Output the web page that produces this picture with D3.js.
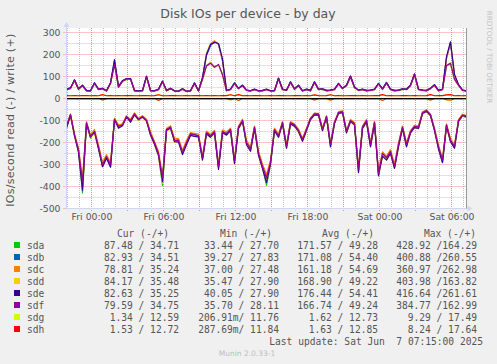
<!DOCTYPE html>
<html>
<head>
<meta charset="utf-8">
<script src="https://cdn.jsdelivr.net/npm/d3@7"></script>
<style>
  html, body { margin: 0; padding: 0; background: #F0F0F0; }
  svg { display: block; }
  svg text { white-space: pre; }
</style>
</head>
<body>
<div id="chart"></div>
<script>
// Munin "Disk IOs per device - by day", one sample every 20 minutes
const startTime = new Date(2025, 5, 5, 21, 55);
const endTime = new Date(2025, 5, 7, 7, 15);
const stepMinutes = 20;

const disks = ['sda', 'sdb', 'sdc', 'sdd', 'sde', 'sdf', 'sdg', 'sdh'];
const diskColors = ['#00CC00', '#0066B3', '#FF8000', '#FFCC00', '#330099', '#990099', '#CCFF00', '#FF0000'];

// write (+) values
const sdaWrite = [42,47,84,40,60,34,35,70,42,44,35, 70,158,50,80,86,90,34,35,34,100, 36,35,42,78,34,44,35,33,44,33, 35,70,35,86,150,164,145,152,110,35, 42,70,44,60,38,35,42,33,34,42, 35,34,92,42,38,75,40,60,35,42, 34,75,42,40,34,38,42,68,44,60, 100,48,38,42,34,38,42,68,40,72, 42,34,38,40,42,60,110,42,38,34, 47,62,34,42,148,158,86,62,38,35];
const sdbWrite = [42,48,84,44,60,37,35,70,42,46,35, 70,170,54,80,90,90,37,35,37,100, 37,35,42,78,37,46,35,33,44,33, 35,70,35,95,195,240,260,248,170,37, 42,70,46,60,38,35,42,35,37,42, 35,37,92,42,38,76,44,60,35,42, 37,76,42,44,37,38,42,68,46,60, 102,52,38,42,37,38,42,68,44,72, 42,37,38,44,42,60,112,42,38,37, 46,62,37,42,185,250,100,62,38,35];
const sdcWrite = [41,47,83,43,59,36,34,69,41,45,34, 69,168,53,79,89,89,36,34,36,99, 36,34,41,77,36,45,34,32,43,32, 34,69,34,92,205,250,263,245,175,36, 41,69,45,59,37,34,41,34,36,41, 34,36,91,41,37,74,43,59,34,41, 36,74,41,43,36,37,41,67,45,59, 100,51,37,41,36,37,41,67,43,71, 41,36,37,43,41,59,110,41,37,36, 45,61,36,41,180,255,105,61,37,35];
const sddWrite = [41,46,80,43,57,36,33,67,41,46,33, 67,152,53,77,87,87,36,33,36,96, 34,33,41,75,36,46,33,31,41,31, 33,66,33,87,146,163,140,154,106,37, 41,67,46,57,36,33,41,33,36,41, 33,36,88,41,36,72,43,57,33,41, 36,72,41,43,36,36,41,65,46,57, 96,51,36,41,36,36,41,65,43,69, 41,36,36,43,41,57,106,41,36,36, 46,58,36,41,152,162,86,58,36,35];
const sdeWrite = [43,48,85,44,61,37,35,71,43,46,35, 71,177,55,81,91,91,37,35,37,102, 37,35,43,79,37,46,35,33,44,33, 35,71,35,96,200,245,255,250,180,37, 43,71,46,61,38,35,43,35,37,43, 35,37,93,43,38,76,44,61,35,43, 37,76,43,44,37,38,43,69,46,61, 102,52,38,43,37,38,43,69,44,73, 43,37,38,44,43,61,112,43,38,37, 47,63,37,43,190,258,110,63,38,35];
const sdfWrite = [40,45,82,42,58,35,34,68,40,45,34, 68,155,52,78,88,88,35,34,35,98, 35,34,40,76,35,45,34,32,42,32, 34,68,34,88,148,160,142,155,108,36, 40,68,45,58,37,34,40,34,35,40, 34,35,90,40,37,73,42,58,34,40, 35,73,40,42,35,37,40,66,45,58, 98,50,37,40,35,37,40,66,42,70, 40,35,37,42,40,58,108,40,37,35, 45,60,35,40,150,160,88,60,37,35];
const sdgWrite = [12.6,12.5,12.7,12.4,12.6,12.8,12.5,12.6,12.3,17.2,12.5, 12.6,12.4,12.7,12.5,12.6,12.8,12.4,12.5,12.6,12.7, 12.5,12.6,16.8,12.4,12.5,12.7,12.6,12.5,12.4,12.6, 12.5,12.8,12.6,12.5,12.7,12.4,12.6,12.5,12.6,12.7, 16.9,12.5,17.3,12.4,12.6,12.5,12.7,12.6,12.5,12.4, 12.6,12.5,12.7,12.6,12.5,12.4,12.6,12.7,12.5,12.6, 12.4,16.5,12.6,12.5,12.7,17.0,12.5,12.6,12.4,12.5, 12.6,12.7,12.5,12.6,12.4,12.5,12.6,12.7,17.5,12.5, 12.6,12.4,12.5,12.6,12.7,12.5,12.6,12.4,12.5,12.6, 17.1,12.5,12.6,12.7,16.4,17.2,12.5,12.6,12.4,12.6];
const sdhWrite = [12.7,12.6,12.8,12.5,12.7,12.9,12.6,12.7,12.4,17.4,12.6, 12.7,12.5,12.8,12.6,12.7,12.9,12.5,12.6,12.7,12.8, 12.6,12.7,17.0,12.5,12.6,12.8,12.7,12.6,12.5,12.7, 12.6,12.9,12.7,12.6,12.8,12.5,12.7,12.6,12.7,12.8, 17.1,12.6,17.6,12.5,12.7,12.6,12.8,12.7,12.6,12.5, 12.7,12.6,12.8,12.7,12.6,12.5,12.7,12.8,12.6,12.7, 12.5,16.7,12.7,12.6,12.8,17.2,12.6,12.7,12.5,12.6, 12.7,12.8,12.6,12.7,12.5,12.6,12.7,12.8,17.6,12.6, 12.7,12.5,12.6,12.7,12.8,12.6,12.7,12.5,12.6,12.7, 17.3,12.6,12.7,12.8,16.6,17.4,12.6,12.7,12.5,12.7];

// read (-) values, already negated the munin way
const sdaRead = [-130,-78,-170,-240,-429,-115,-180,-145,-225,-310,-270, -305,-90,-130,-115,-85,-105,-72,-100,-80,-95, -165,-205,-260,-395,-145,-125,-195,-185,-250,-205, -165,-160,-175,-265,-160,-175,-155,-315,-145,-165, -145,-290,-135,-95,-205,-235,-135,-255,-315,-395, -300,-145,-175,-105,-225,-115,-125,-150,-190,-145, -95,-72,-75,-145,-85,-215,-105,-68,-62,-155, -105,-120,-330,-135,-105,-215,-112,-345,-260,-275, -245,-315,-215,-135,-215,-155,-130,-135,-70,-58, -78,-145,-225,-290,-125,-195,-225,-105,-78,-87];
const sdbRead = [-125,-75,-168,-236,-400,-112,-170,-155,-218,-305,-260, -310,-98,-125,-122,-80,-102,-68,-92,-85,-98, -158,-205,-255,-370,-138,-135,-188,-195,-240,-198, -162,-168,-168,-275,-152,-168,-152,-305,-155,-158, -138,-280,-128,-102,-198,-228,-128,-245,-305,-365, -285,-138,-168,-112,-215,-108,-118,-142,-188,-138, -92,-68,-72,-138,-80,-205,-112,-62,-58,-148, -98,-112,-325,-128,-98,-205,-106,-335,-248,-268, -238,-305,-205,-128,-205,-148,-125,-128,-62,-52, -72,-138,-215,-285,-118,-188,-215,-98,-72,-83];
const sdcRead = [-120,-70,-160,-225,-360,-105,-165,-140,-210,-290,-255, -290,-90,-120,-115,-78,-95,-65,-90,-78,-95, -150,-195,-240,-350,-135,-125,-180,-182,-235,-190, -155,-158,-162,-260,-148,-162,-145,-300,-142,-152, -135,-275,-125,-95,-190,-222,-125,-240,-298,-345, -280,-135,-162,-105,-208,-105,-115,-140,-180,-135, -88,-66,-68,-135,-78,-200,-105,-60,-56,-145, -95,-110,-310,-125,-95,-200,-104,-330,-242,-262, -232,-298,-202,-125,-202,-145,-122,-125,-62,-52, -72,-135,-212,-272,-115,-182,-210,-96,-72,-79];
const sddRead = [-132,-80,-172,-238,-404,-118,-178,-160,-228,-298,-268, -298,-100,-132,-125,-88,-105,-75,-98,-86,-104, -168,-210,-262,-385,-148,-138,-198,-195,-252,-208, -168,-170,-178,-272,-162,-178,-158,-318,-158,-168, -148,-292,-138,-105,-208,-238,-138,-258,-312,-380, -295,-148,-178,-115,-222,-118,-128,-152,-195,-148, -95,-75,-78,-148,-88,-218,-115,-70,-64,-158, -105,-122,-340,-138,-108,-218,-115,-350,-258,-278, -248,-312,-218,-138,-218,-158,-132,-138,-70,-60, -80,-148,-228,-288,-128,-198,-222,-106,-80,-84];
const sdeRead = [-135,-76,-168,-245,-417,-114,-176,-152,-230,-310,-272, -312,-96,-135,-124,-84,-108,-74,-96,-84,-102, -166,-208,-258,-378,-146,-134,-196,-198,-255,-210, -168,-172,-175,-280,-160,-176,-156,-322,-156,-166, -146,-296,-136,-104,-210,-240,-136,-258,-318,-382, -298,-146,-176,-114,-226,-116,-126,-150,-194,-146, -96,-74,-76,-146,-86,-220,-114,-68,-64,-156, -104,-120,-336,-136,-106,-220,-114,-352,-262,-280, -250,-318,-220,-136,-220,-156,-132,-136,-68,-58, -78,-146,-230,-292,-126,-196,-226,-104,-78,-83];
const sdfRead = [-127,-73,-165,-232,-380,-110,-173,-150,-220,-300,-264, -300,-95,-127,-120,-82,-100,-70,-95,-82,-100, -160,-200,-250,-360,-141,-130,-190,-190,-245,-200, -160,-164,-170,-270,-155,-170,-150,-310,-150,-160, -140,-285,-130,-100,-200,-230,-130,-250,-309,-360, -290,-141,-170,-109,-218,-110,-120,-145,-186,-140, -90,-70,-70,-141,-82,-210,-109,-64,-60,-150, -100,-115,-320,-130,-100,-210,-109,-340,-250,-270, -240,-309,-210,-130,-210,-150,-127,-130,-65,-55, -75,-141,-220,-280,-120,-190,-218,-100,-75,-80];
const sdgRead = [-1.2,-1.5,-0.9,-1.8,-1.3,-1.1,-1.6,-1.4,-1.2,-5.5,-1.3, -1.0,-1.7,-1.5,-1.2,-1.4,-1.1,-1.6,-1.3,-1.2,-1.5, -1.4,-1.1,-7.8,-1.3,-1.6,-1.2,-1.5,-1.4,-1.1,-1.3, -1.6,-1.2,-1.4,-1.5,-1.1,-1.3,-1.6,-1.2,-1.4,-1.5, -6.2,-1.3,-9.3,-1.2,-1.4,-1.6,-1.1,-1.3,-1.5,-1.2, -1.4,-1.6,-1.1,-1.3,-1.5,-1.2,-1.4,-1.6,-1.3,-1.1, -1.5,-5.8,-1.4,-1.2,-1.6,-7.1,-1.3,-1.5,-1.2,-1.4, -1.1,-1.6,-1.3,-1.5,-1.2,-1.4,-1.6,-1.1,-8.5,-1.3, -1.5,-1.2,-1.4,-1.6,-1.1,-1.3,-1.5,-1.2,-1.4,-1.6, -6.6,-1.3,-1.5,-1.2,-5.9,-7.4,-1.3,-1.5,-1.4,-1.3];
const sdhRead = [-1.4,-1.6,-1.0,-1.9,-1.5,-1.2,-1.7,-1.5,-1.3,-6.0,-1.4, -1.1,-1.8,-1.6,-1.3,-1.5,-1.2,-1.7,-1.4,-1.3,-1.6, -1.5,-1.2,-7.2,-1.4,-1.7,-1.3,-1.6,-1.5,-1.2,-1.4, -1.7,-1.3,-1.5,-1.6,-1.2,-1.4,-1.7,-1.3,-1.5,-1.6, -5.7,-1.4,-8.2,-1.3,-1.5,-1.7,-1.2,-1.4,-1.6,-1.3, -1.5,-1.7,-1.2,-1.4,-1.6,-1.3,-1.5,-1.7,-1.4,-1.2, -1.6,-6.3,-1.5,-1.3,-1.7,-6.5,-1.4,-1.6,-1.3,-1.5, -1.2,-1.7,-1.4,-1.6,-1.3,-1.5,-1.7,-1.2,-7.9,-1.4, -1.6,-1.3,-1.5,-1.7,-1.2,-1.4,-1.6,-1.3,-1.5,-1.7, -6.1,-1.4,-1.6,-1.3,-5.4,-6.8,-1.4,-1.6,-1.5,-1.5];

const writeSeries = [sdaWrite, sdbWrite, sdcWrite, sddWrite, sdeWrite, sdfWrite, sdgWrite, sdhWrite];
const readSeries = [sdaRead, sdbRead, sdcRead, sddRead, sdeRead, sdfRead, sdgRead, sdhRead];

// legend table (read / write)
const curText = ['87.48 / 34.71', '82.93 / 34.51', '78.81 / 35.24', '84.17 / 35.48', '82.63 / 35.25', '79.59 / 34.75', '1.34 / 12.59', '1.53 / 12.72'];
const minText = ['33.44 / 27.70', '39.27 / 27.83', '37.00 / 27.48', '35.47 / 27.90', '40.05 / 27.90', '35.70 / 28.11', '206.91m/ 11.76', '287.69m/ 11.84'];
const avgText = ['171.57 / 49.28', '171.08 / 54.40', '161.18 / 54.69', '168.90 / 49.22', '176.44 / 54.41', '166.74 / 49.24', '1.62 / 12.73', '1.63 / 12.85'];
const maxText = ['428.92 /164.29', '400.88 /260.55', '360.97 /262.98', '403.98 /163.82', '416.64 /261.61', '384.77 /162.99', '9.29 / 17.49', '8.24 / 17.64'];

const yMajorTicks = [-500, -400, -300, -200, -100, 0, 100, 200, 300];

const chartW = 497, chartH = 364;
const pLeft = 66.5, pRight = 466.5, pTop = 28, pBottom = 208.5;
const axisFont = 'DejaVu Sans, sans-serif';
const monoFont = 'DejaVu Sans Mono, monospace';

const svg = d3.select('#chart').append('svg')
    .attr('width', chartW)
    .attr('height', chartH);

svg.append('rect').attr('width', chartW).attr('height', chartH).attr('fill', '#F0F0F0');

const x = d3.scaleTime().domain([startTime, endTime]).range([pLeft, pRight]);
const y = d3.scaleLinear().domain([-500, 318.18]).range([pBottom, pTop + 0.5]);

const times = sdaWrite.map((d, i) => d3.timeMinute.offset(startTime, i * stepMinutes));

// canvas
svg.append('rect')
    .attr('x', pLeft + 0.5).attr('y', pTop)
    .attr('width', pRight - pLeft - 0.5).attr('height', pBottom - pTop)
    .attr('fill', '#ffffff');

// grid: minor hours / every 50, major every 3 hours / every 100
const hours = d3.timeHour.range(startTime, endTime);
const minorX = hours.filter(d => d.getHours() % 3 !== 0);
const majorX = hours.filter(d => d.getHours() % 3 === 0);
const minorY = d3.range(-450, 320, 100);

const grid = svg.append('g');
grid.selectAll('.vminor').data(minorX).enter().append('line')
    .attr('x1', d => x(d)).attr('x2', d => x(d))
    .attr('y1', pTop).attr('y2', pBottom + 2)
    .attr('stroke', '#c4c4c4').attr('stroke-dasharray', '1,1');
grid.selectAll('.hminor').data(minorY).enter().append('line')
    .attr('x1', pLeft - 2).attr('x2', pRight)
    .attr('y1', d => y(d)).attr('y2', d => y(d))
    .attr('stroke', '#c4c4c4').attr('stroke-dasharray', '1,1');
grid.selectAll('.vmajor').data(majorX).enter().append('line')
    .attr('x1', d => x(d)).attr('x2', d => x(d))
    .attr('y1', pTop).attr('y2', pBottom + 3)
    .attr('stroke', '#f08c8c').attr('stroke-dasharray', '1,1');
grid.selectAll('.hmajor').data(yMajorTicks).enter().append('line')
    .attr('x1', pLeft - 3).attr('x2', pRight)
    .attr('y1', d => y(d)).attr('y2', d => y(d))
    .attr('stroke', '#f08c8c').attr('stroke-dasharray', '1,1');

// axes labels
const yAxis = d3.axisLeft(y).tickValues(yMajorTicks).tickSize(0).tickPadding(6)
    .tickFormat(d => String(d));
const yg = svg.append('g').attr('transform', `translate(${pLeft},0)`).call(yAxis);
yg.select('.domain').remove();
yg.selectAll('text').attr('font-family', axisFont).attr('font-size', 9.3).attr('fill', '#555');

const xAxis = d3.axisBottom(x).ticks(d3.timeHour.every(6)).tickSize(0).tickPadding(5)
    .tickFormat(d3.timeFormat('%a %H:%M'));
const xg = svg.append('g').attr('transform', `translate(0,${pBottom})`).call(xAxis);
xg.select('.domain').remove();
xg.selectAll('text').attr('font-family', axisFont).attr('font-size', 9.3).attr('fill', '#555');

// series
const line = d3.line()
    .x((d, i) => x(times[i]))
    .y(d => y(d));

const series = svg.append('g');
disks.forEach((disk, k) => {
    series.append('path').datum(readSeries[k])
        .attr('d', line).attr('fill', 'none')
        .attr('stroke', diskColors[k]).attr('stroke-width', 1.2)
        .attr('stroke-linejoin', 'round');
    series.append('path').datum(writeSeries[k])
        .attr('d', line).attr('fill', 'none')
        .attr('stroke', diskColors[k]).attr('stroke-width', 1.2)
        .attr('stroke-linejoin', 'round');
});

// zero rule
svg.append('line')
    .attr('x1', pLeft).attr('x2', pRight)
    .attr('y1', y(0)).attr('y2', y(0))
    .attr('stroke', '#000').attr('stroke-width', 1);

// frame: axis lines, arrows, right edge
const axisColor = '#CFD6F8';
svg.append('line').attr('x1', pLeft).attr('x2', pLeft).attr('y1', pBottom).attr('y2', pTop - 2)
    .attr('stroke', axisColor);
svg.append('line').attr('x1', pLeft).attr('x2', pRight + 2).attr('y1', pBottom).attr('y2', pBottom)
    .attr('stroke', axisColor);
svg.append('path').attr('d', `M${pLeft - 3},${pTop - 1}L${pLeft},${pTop - 6}L${pLeft + 3},${pTop - 1}Z`)
    .attr('fill', axisColor);
svg.append('path').attr('d', `M${pRight + 1},${pBottom - 3}L${pRight + 6},${pBottom}L${pRight + 1},${pBottom + 3}Z`)
    .attr('fill', axisColor);
svg.append('line').attr('x1', pRight).attr('x2', pRight).attr('y1', pTop).attr('y2', pBottom)
    .attr('stroke', '#999');

// title and labels
svg.append('text')
    .attr('x', 248).attr('y', 17.5)
    .attr('text-anchor', 'middle')
    .attr('font-family', axisFont).attr('font-size', 12.5).attr('fill', '#555')
    .text('Disk IOs per device - by day');

svg.append('text')
    .attr('transform', `translate(14,${(pTop + pBottom) / 2 + 2}) rotate(-90)`)
    .attr('text-anchor', 'middle')
    .attr('font-family', axisFont).attr('font-size', 11).attr('fill', '#555')
    .attr('textLength', 173).attr('lengthAdjust', 'spacing')
    .text('IOs/second read (-) / write (+)');

svg.append('text')
    .attr('transform', 'translate(487,57) rotate(90)')
    .attr('text-anchor', 'middle')
    .attr('font-family', axisFont).attr('font-size', 7.2).attr('fill', '#c4c4c4')
    .text('RRDTOOL / TOBI OETIKER');

// legend
const legend = svg.append('g')
    .attr('font-family', monoFont).attr('font-size', 9.6).attr('fill', '#555');

const colEnds = [179, 279, 378, 477];
const headers = ['Cur (-/+)', 'Min (-/+)', 'Avg (-/+)', 'Max (-/+)'];
const headerEnds = [169, 272, 374, 476];
headers.forEach((h, j) => {
    legend.append('text').attr('x', headerEnds[j]).attr('y', 236.5)
        .attr('text-anchor', 'end').text(h);
});

const rowY = d3.scaleLinear().domain([0, 1]).range([248.5, 260.5]);
disks.forEach((disk, k) => {
    const yy = rowY(k);
    legend.append('rect')
        .attr('x', 14).attr('y', yy - 6.5).attr('width', 6).attr('height', 6)
        .attr('fill', diskColors[k]);
    legend.append('text').attr('x', 27).attr('y', yy).text(disk);
    [curText, minText, avgText, maxText].forEach((col, j) => {
        legend.append('text').attr('x', colEnds[j]).attr('y', yy)
            .attr('text-anchor', 'end').text(col[k]);
    });
});

legend.append('text').attr('x', 483).attr('y', 345)
    .attr('text-anchor', 'end')
    .text('Last update: Sat Jun  7 07:15:00 2025');

svg.append('text')
    .attr('x', 247).attr('y', 356)
    .attr('text-anchor', 'middle')
    .attr('font-family', axisFont).attr('font-size', 7.5).attr('fill', '#bdbdbd')
    .text('Munin 2.0.33-1');
</script>
</body>
</html>
